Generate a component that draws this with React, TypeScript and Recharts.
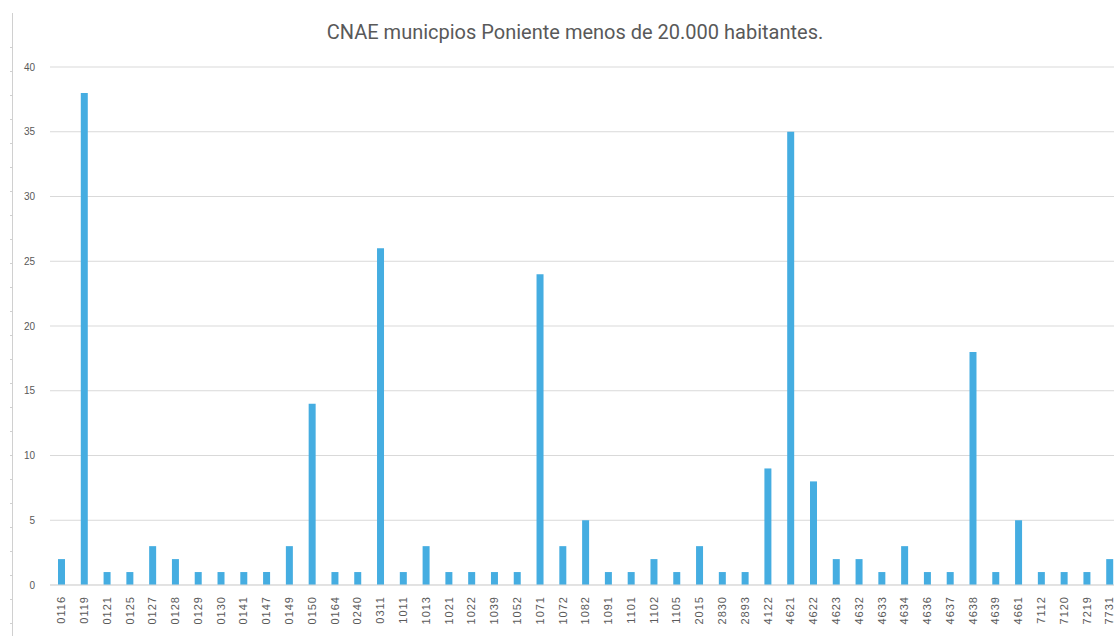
import { Bar, BarChart, CartesianGrid, XAxis, YAxis } from "recharts";

const codes = [
  "0116", "0119", "0121", "0125", "0127", "0128", "0129", "0130", "0141", "0147",
  "0149", "0150", "0164", "0240", "0311", "1011", "1013", "1021", "1022", "1039",
  "1052", "1071", "1072", "1082", "1091", "1101", "1102", "1105", "2015", "2830",
  "2893", "4122", "4621", "4622", "4623", "4632", "4633", "4634", "4636", "4637",
  "4638", "4639", "4661", "7112", "7120", "7219", "7731",
];

const counts = [
  2, 38, 1, 1, 3, 2, 1, 1, 1, 1,
  3, 14, 1, 1, 26, 1, 3, 1, 1, 1,
  1, 24, 3, 5, 1, 1, 2, 1, 3, 1,
  1, 9, 35, 8, 2, 2, 1, 3, 1, 1,
  18, 1, 5, 1, 1, 1, 2,
];

const yTicks = [0, 5, 10, 15, 20, 25, 30, 35, 40];

const data = codes.map((code, i) => ({ code, total: counts[i] }));

const labelColor = "#595959";

const App = () => {
  return (
    <div
      style={{
        position: "fixed",
        left: 8,
        top: 8,
        width: 1106,
        height: 628,
        overflow: "hidden",
        background: "#fff",
      }}
    >
      {/* ruler line on the left edge */}
      <div
        style={{
          position: "absolute",
          left: 4,
          top: 5,
          width: 1,
          height: 623,
          background: "#d0d0d0",
        }}
      />
      <div
        style={{
          position: "absolute",
          left: 2,
          top: 5,
          width: 2,
          height: 623,
          background:
            "repeating-linear-gradient(to bottom, transparent 0px, transparent 23px, #d0d0d0 23px, #d0d0d0 24px)",
          backgroundPosition: "0 11px",
        }}
      />
      <div
        style={{
          position: "absolute",
          left: 0,
          top: 12,
          width: 1134,
          textAlign: "center",
          fontFamily: "Roboto, sans-serif",
          fontSize: 20,
          color: labelColor,
        }}
      >
        CNAE municpios Poniente menos de 20.000 habitantes.
      </div>
      <BarChart
        width={1120}
        height={628}
        data={data}
        margin={{ top: 59, right: 7, bottom: 0, left: 0 }}
        barCategoryGap="35%"
      >
        <CartesianGrid vertical={false} stroke="#d9d9d9" />
        <XAxis
          dataKey="code"
          interval={0}
          axisLine={{ stroke: "#d9d9d9" }}
          tickLine={false}
          height={51}
          angle={-90}
          textAnchor="end"
          tickMargin={5}
          tick={{
            fontSize: 11,
            fill: labelColor,
            fontFamily: "Liberation Sans, sans-serif",
            letterSpacing: 1,
            dx: -4,
          }}
        />
        <YAxis
          domain={[0, 40]}
          ticks={yTicks}
          axisLine={false}
          tickLine={false}
          width={42}
          tickMargin={9}
          tick={{ fontSize: 10, fill: labelColor, fontFamily: "Liberation Sans, sans-serif" }}
        />
        <Bar dataKey="total" fill="#45ADE1" barSize={7} isAnimationActive={false} />
      </BarChart>
    </div>
  );
};

export default App;
